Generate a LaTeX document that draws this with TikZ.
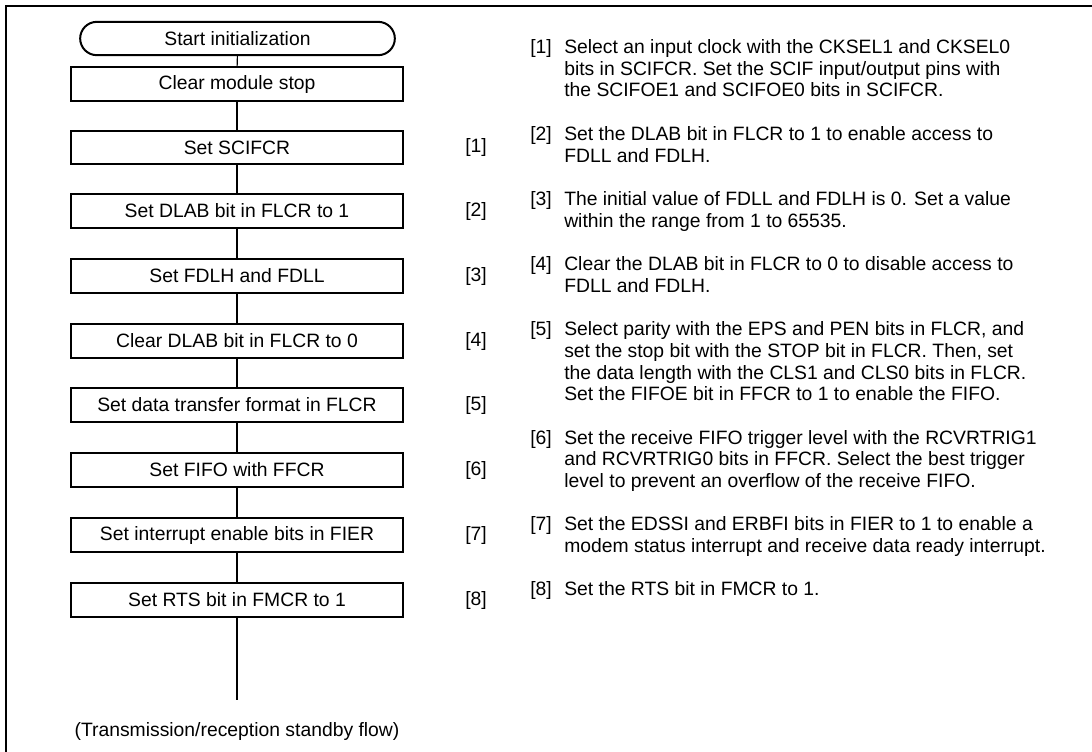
\documentclass[tikz,border=0pt]{standalone}
\usepackage{fontspec}
\setmainfont{Liberation Sans}
\begin{document}
\begin{tikzpicture}[x=0.75pt,y=-0.75pt,
  frame/.style={line width=1.6pt},
  stepbox/.style={draw, line width=1.5pt, minimum width=249pt, minimum height=25pt, inner sep=0pt, font=\fontsize{14.5}{17}\selectfont},
  term/.style={draw, line width=1.5pt, minimum width=236pt, minimum height=25pt, rounded corners=12.5pt, inner sep=0pt, font=\fontsize{14.5}{17}\selectfont},
  lbl/.style={inner sep=0pt, font=\fontsize{14.5}{17}\selectfont},
  conn/.style={line width=0.8pt},
  note/.style={anchor=north west, inner sep=0pt, align=left, font=\fontsize{14.5}{16.3}\selectfont},
  nlbl/.style={anchor=north west, inner sep=0pt, font=\fontsize{14.5}{16.3}\selectfont},
]
\useasboundingbox (0,0) rectangle (1092,751);
\draw[frame] (6,770) -- (6,6) -- (1110,6);

\node[term] (t0) at (237.5,38.5) {Start initialization};
\node[stepbox] (b0) at (237,84) {Clear module stop};
\node[stepbox] (b1) at (237,147.5) {Set SCIFCR};
\node[stepbox] (b2) at (237,211) {Set DLAB bit in FLCR to 1};
\node[stepbox] (b3) at (237,276) {Set FDLH and FDLL};
\node[stepbox] (b4) at (237,341) {Clear DLAB bit in FLCR to 0};
\node[stepbox] (b5) at (237,405) {Set data transfer format in FLCR};
\node[stepbox] (b6) at (237,470) {Set FIFO with FFCR};
\node[stepbox] (b7) at (237,535) {Set interrupt enable bits in FIER};
\node[stepbox] (b8) at (237,600) {Set RTS bit in FMCR to 1};
\coordinate (e) at (237,700);
\node[lbl] (foot) at (237,731) {(Transmission/reception standby flow)};

\node[lbl] (l1) at (476,147.5) {[1]};
\node[lbl] (l2) at (476,211) {[2]};
\node[lbl] (l3) at (476,276) {[3]};
\node[lbl] (l4) at (476,341) {[4]};
\node[lbl] (l5) at (476,405) {[5]};
\node[lbl] (l6) at (476,470) {[6]};
\node[lbl] (l7) at (476,535) {[7]};
\node[lbl] (l8) at (476,600) {[8]};

\draw[conn] (t0) -- (b0);
\draw[conn] (b0) -- (b1);
\draw[conn] (b1) -- (b2);
\draw[conn] (b2) -- (b3);
\draw[conn] (b3) -- (b4);
\draw[conn] (b4) -- (b5);
\draw[conn] (b5) -- (b6);
\draw[conn] (b6) -- (b7);
\draw[conn] (b7) -- (b8);
\draw[conn] (b8) -- (e);

\node[nlbl] (n1) at (530,38) {\strut[1]};
\node[note] (p1) at (564,38) {\strut Select an input clock with the CKSEL1 and CKSEL0\\bits in SCIFCR. Set the SCIF input/output pins with\\the SCIFOE1 and SCIFOE0 bits in SCIFCR.};
\node[nlbl] (n2) at (530,124.8) {\strut[2]};
\node[note] (p2) at (564,124.8) {\strut Set the DLAB bit in FLCR to 1 to enable access to\\FDLL and FDLH.};
\node[nlbl] (n3) at (530,189.9) {\strut[3]};
\node[note] (p3) at (564,189.9) {\strut The initial value of FDLL and FDLH is 0. Set a value\\within the range from 1 to 65535.};
\node[nlbl] (n4) at (530,255) {\strut[4]};
\node[note] (p4) at (564,255) {\strut Clear the DLAB bit in FLCR to 0 to disable access to\\FDLL and FDLH.};
\node[nlbl] (n5) at (530,320.1) {\strut[5]};
\node[note] (p5) at (564,320.1) {\strut Select parity with the EPS and PEN bits in FLCR, and\\set the stop bit with the STOP bit in FLCR. Then, set\\the data length with the CLS1 and CLS0 bits in FLCR.\\Set the FIFOE bit in FFCR to 1 to enable the FIFO.};
\node[nlbl] (n6) at (530,428.6) {\strut[6]};
\node[note] (p6) at (564,428.6) {\strut Set the receive FIFO trigger level with the RCVRTRIG1\\and RCVRTRIG0 bits in FFCR. Select the best trigger\\level to prevent an overflow of the receive FIFO.};
\node[nlbl] (n7) at (530,515.4) {\strut[7]};
\node[note] (p7) at (564,515.4) {\strut Set the EDSSI and ERBFI bits in FIER to 1 to enable a\\modem status interrupt and receive data ready interrupt.};
\node[nlbl] (n8) at (530,580.5) {\strut[8]};
\node[note] (p8) at (564,580.5) {\strut Set the RTS bit in FMCR to 1.};
\end{tikzpicture}
\end{document}
